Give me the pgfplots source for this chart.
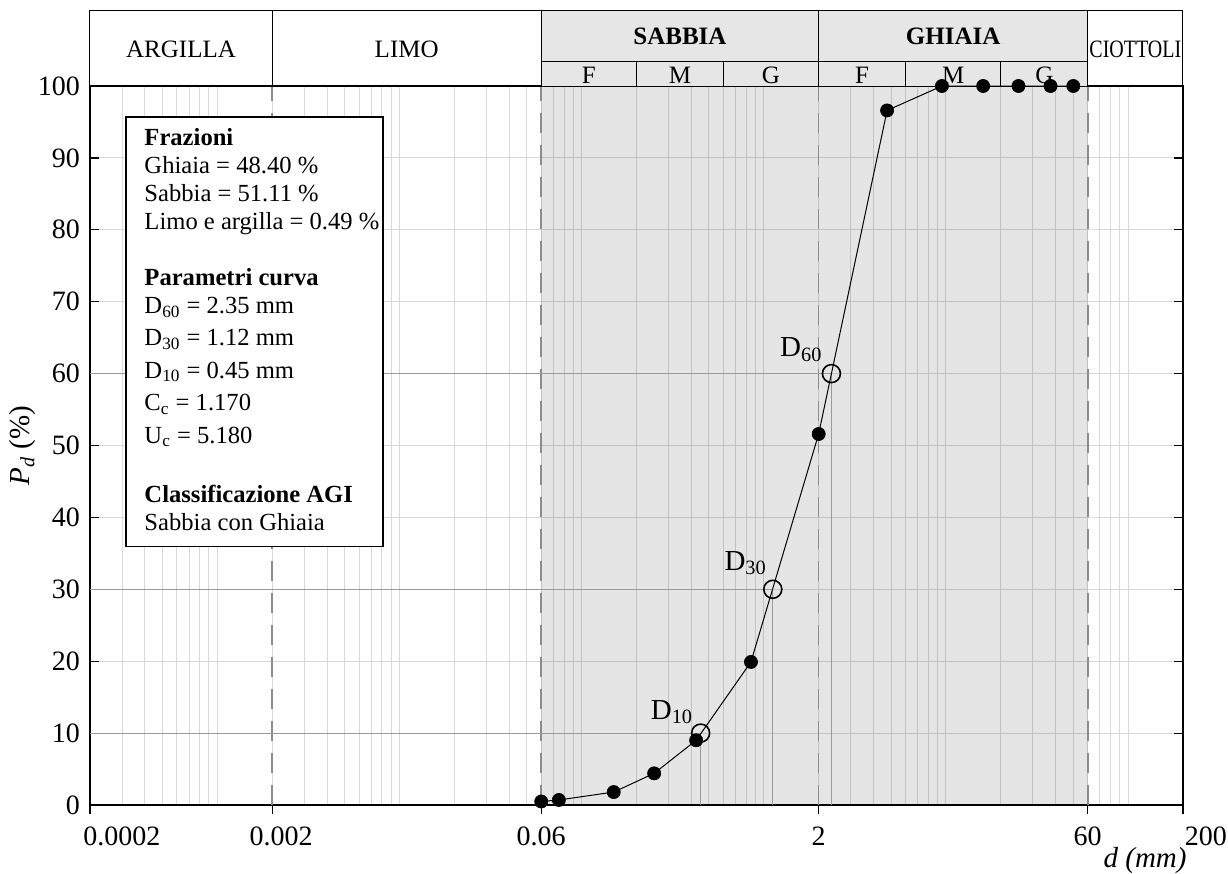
\documentclass[border=0pt]{standalone}
\usepackage{fontspec}
\setmainfont{Liberation Serif}
\usepackage{graphicx}
\usepackage{pgfplots}
\usepackage{pgfplotstable}
\pgfplotsset{compat=1.18}

\definecolor{bandgray}{HTML}{E6E6E6}
\definecolor{gridgray}{HTML}{D9D9D9}
\definecolor{guidegray}{HTML}{9A9A9A}
\definecolor{dashgray}{HTML}{8C8C8C}

% curva granulometrica (d in mm, passante in %)
\pgfplotstableread{
d P
0.06 0.49
0.075 0.7
0.15 1.8
0.25 4.4
0.425 9.0
0.85 19.9
2 51.6
4.75 96.6
9.5 100
16 100
25 100
37.5 100
50 100
}\curva

% diametri caratteristici
\pgfplotstableread{
d P
0.45 10
1.12 30
2.35 60
}\dpunti

\begin{document}
\begin{tikzpicture}
\begin{axis}[
  xmode=log,
  scale only axis,
  width=546.5pt, height=359.5pt,
  xmin=0.0002, xmax=200, ymin=0, ymax=100,
  clip=false,
  xtick={0.0002,0.002,0.06,2,60,200},
  xticklabels={\hspace*{32pt}0.0002,\hspace*{9pt}0.002,0.06,2,60,\hspace*{23pt}200},
  minor xtick={0.0003,0.0004,0.0005,0.0006,0.0007,0.0008,0.0009,
    0.001,0.002,0.003,0.004,0.005,0.006,0.007,0.008,0.009,
    0.01,0.02,0.03,0.04,0.05,0.06,0.07,0.08,0.09,
    0.1,0.2,0.3,0.4,0.5,0.6,0.7,0.8,0.9,
    1,2,3,4,5,6,7,8,9,
    10,20,30,40,50,60,70,80,90,100},
  xminorgrids=true,
  minor tick length=0pt,
  xtick pos=bottom,
  xtick align=outside,
  ytick={0,10,...,100},
  ymajorgrids=true,
  ytick align=inside,
  ytick pos=both,
  major tick length=4.5pt,
  major grid style={gridgray, line width=0.5pt},
  minor grid style={gridgray, line width=0.5pt},
  axis line style={line width=0.6pt},
  tick style={black, line width=0.6pt},
  tick label style={font=\fontsize{14}{16}\selectfont},
  /pgf/number format/assume math mode=true,
  yticklabel style={xshift=-1.5pt},
  xticklabel style={yshift=-3pt},
  xlabel={d (mm)},
  xlabel style={at={(rel axis cs:1,0)}, anchor=north east, inner sep=0pt,
    xshift=2pt, yshift=-21pt, font=\fontsize{14.5}{16}\selectfont\itshape},
  ylabel={\textit{P}\textsubscript{\textit{d}} (\%)},
  ylabel style={at={(rel axis cs:-0.0613,0.5)}, anchor=center,
    font=\fontsize{14.5}{16}\selectfont},
]
\coordinate (SW) at (rel axis cs:0,0);
\coordinate (NE) at (rel axis cs:1,1);

% zona sabbia-ghiaia
\fill[black, fill opacity=0.1] (axis cs:0.06,0) rectangle (axis cs:60,100);

% limiti delle classi
\pgfplotsinvokeforeach{0.002,0.06,2,60}{
  \draw[dashgray, line width=0.8pt, dash pattern=on 10pt off 6pt]
    (axis cs:#1,0) -- (axis cs:#1,100);
}

% linee di richiamo D10, D30, D60
\draw[guidegray, line width=0.6pt] (axis cs:0.0002,10) -- (axis cs:0.45,10) -- (axis cs:0.45,0);
\draw[guidegray, line width=0.6pt] (axis cs:0.0002,30) -- (axis cs:1.12,30) -- (axis cs:1.12,0);
\draw[guidegray, line width=0.6pt] (axis cs:0.0002,60) -- (axis cs:2.35,60) -- (axis cs:2.35,0);

% fascia delle classi
\fill[bandgray] (axis cs:0.06,100) rectangle (axis cs:60,110.57);
\draw[line width=0.5pt] (axis cs:0.0002,100) rectangle (axis cs:200,110.57);
\pgfplotsinvokeforeach{0.002,0.06,2,60}{
  \draw[line width=0.5pt] (axis cs:#1,100) -- (axis cs:#1,110.57);
}
\draw[line width=0.5pt] (axis cs:0.06,103.34) -- (axis cs:60,103.34);
\pgfplotsinvokeforeach{0.2,0.6,6,20}{
  \draw[line width=0.5pt] (axis cs:#1,100) -- (axis cs:#1,103.34);
}
\begin{scope}[font=\fontsize{12.5}{14}\selectfont]
\node at (axis cs:0.000632,105.1) {ARGILLA};
\node at (axis cs:0.01095,105.1) {LIMO};
\node at (axis cs:0.3464,106.95) {\textbf{SABBIA}};
\node at (axis cs:10.95,106.95) {\textbf{GHIAIA}};
\node at (axis cs:109.5,105.1) {\scalebox{0.8}[1]{CIOTTOLI}};
\node at (axis cs:0.1095,101.53) {F};
\node at (axis cs:0.3464,101.53) {M};
\node at (axis cs:1.095,101.53) {G};
\node at (axis cs:3.464,101.53) {F};
\node at (axis cs:10.95,101.53) {M};
\node at (axis cs:34.64,101.53) {G};
\end{scope}

% riquadro con i parametri
\draw[fill=white, line width=0.6pt] (rel axis cs:0.0329,0.957) rectangle (rel axis cs:0.268,0.360);
\node[anchor=north west, inner sep=0pt, align=left, font=\fontsize{12.3}{14}\selectfont]
  at (rel axis cs:0.0495,0.9416) {%
  \textbf{Frazioni}\\
  Ghiaia = 48.40 \%\\
  Sabbia = 51.11 \%\\
  Limo e argilla = 0.49 \%\\[14pt]
  \textbf{Parametri curva}\\
  D\textsubscript{60} = 2.35 mm\\[2.2pt]
  D\textsubscript{30} = 1.12 mm\\[2.2pt]
  D\textsubscript{10} = 0.45 mm\\[2.2pt]
  C\textsubscript{c} = 1.170\\[2.2pt]
  U\textsubscript{c} = 5.180\\[15.5pt]
  \textbf{Classificazione AGI}\\
  Sabbia con Ghiaia};

% curva
\addplot[black, line width=0.5pt, mark=*, mark size=3.3pt,
  mark options={fill=black, line width=0.3pt}] table[x=d, y=P] {\curva};
\addplot[only marks, mark=o, mark size=4.5pt,
  mark options={black, line width=0.8pt}] table[x=d, y=P] {\dpunti};

\begin{scope}[font=\fontsize{14.5}{16}\selectfont]
\node[anchor=south east, inner sep=0pt, xshift=-3.6pt, yshift=4.5pt] at (axis cs:0.45,10) {D\textsubscript{10}};
\node[anchor=south east, inner sep=0pt, xshift=-2.8pt, yshift=7pt] at (axis cs:1.12,30) {D\textsubscript{30}};
\node[anchor=south east, inner sep=0pt, xshift=-4.3pt, yshift=6pt] at (axis cs:2.35,60) {D\textsubscript{60}};
\end{scope}
\end{axis}
\pgfresetboundingbox
\path[use as bounding box] ([shift={(-45pt,-34.5pt)}]SW) rectangle ([shift={(22.5pt,43pt)}]NE);
\end{tikzpicture}
\end{document}
